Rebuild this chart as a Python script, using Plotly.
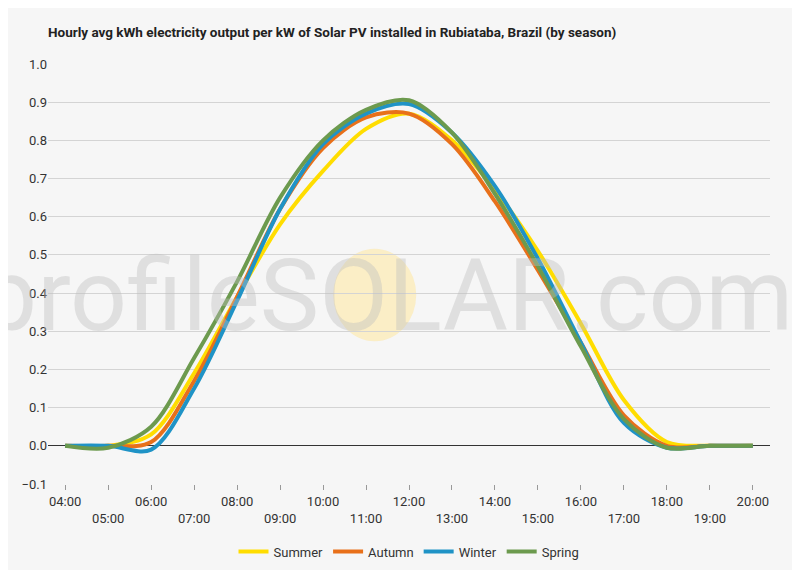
import plotly.graph_objects as go

hours = list(range(4, 21))
summer = [0, 0, 0.03, 0.19, 0.39, 0.58, 0.72, 0.83, 0.87, 0.80, 0.67, 0.51, 0.32, 0.12, 0.01, 0, 0]
autumn = [0, 0, 0.01, 0.17, 0.39, 0.62, 0.78, 0.86, 0.87, 0.79, 0.64, 0.46, 0.27, 0.08, 0, 0, 0]
winter = [0, 0, -0.01, 0.15, 0.38, 0.62, 0.79, 0.87, 0.895, 0.82, 0.68, 0.49, 0.27, 0.06, -0.005, 0, 0]
spring = [0, -0.005, 0.05, 0.23, 0.43, 0.65, 0.80, 0.88, 0.905, 0.82, 0.66, 0.47, 0.26, 0.07, -0.005, 0, 0]

series = [("Summer", summer, "#ffdd00"), ("Autumn", autumn, "#e8701a"),
          ("Winter", winter, "#1f93c6"), ("Spring", spring, "#6c9a4e")]

ticktext = [f"{h:02d}:00" if h % 2 == 0 else f"<br>{h:02d}:00" for h in hours]

fig = go.Figure()
for name, vals, col in series:
    fig.add_trace(go.Scatter(x=hours, y=vals, name=name, mode="lines",
                             line=dict(color=col, width=4, shape="spline", smoothing=0.9)))

# watermark
fig.add_shape(type="circle", xref="paper", yref="paper", x0=0.395, x1=0.51, y0=0.34, y1=0.56,
              fillcolor="rgba(255,230,150,0.5)", line_width=0, layer="below")
fig.add_annotation(text="profileSOLAR.com", xref="paper", yref="paper", x=0.47, y=0.45,
                   showarrow=False, font=dict(size=100, color="rgba(190,190,190,0.4)", family="Roboto"))

fig.update_layout(
    width=800, height=570,
    paper_bgcolor="#f6f6f6", plot_bgcolor="#f6f6f6",
    font=dict(family="Roboto", size=13, color="#333"),
    title=dict(text="<b>Hourly avg kWh electricity output per kW of Solar PV installed in Rubiataba, Brazil (by season)</b>",
               x=0.05, y=0.965, xanchor="left", font=dict(size=13.5, color="#222")),
    margin=dict(l=40, r=38, t=56, b=58),
    legend=dict(orientation="h", x=0.5, xanchor="center", y=-0.125, yanchor="top",
                font=dict(size=13), bgcolor="rgba(0,0,0,0)"),
    showlegend=True,
)
fig.update_xaxes(tickvals=hours, ticktext=ticktext, range=[3.6, 20.4], showgrid=False,
                 ticks="outside", ticklen=5, tickcolor="#999", showline=False, zeroline=False)
fig.update_yaxes(range=[-0.1, 1.0], dtick=0.1, tickformat=".1f", gridcolor="#d4d4d4",
                 zeroline=True, zerolinecolor="#333", zerolinewidth=1)
fig.write_html("out.html")
